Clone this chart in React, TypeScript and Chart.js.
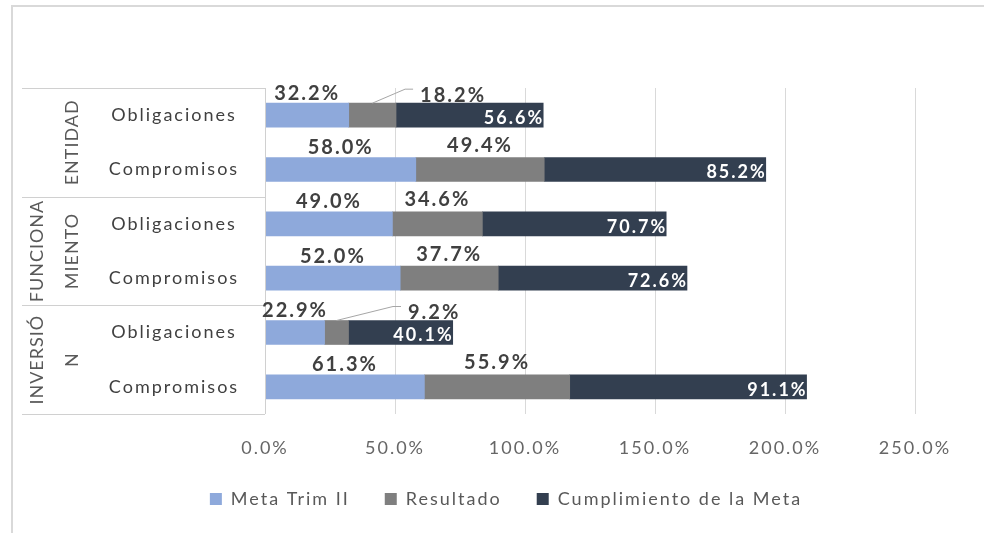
import React, { useEffect, useRef } from 'react';
import { Chart, registerables } from 'chart.js';

Chart.register(...registerables);

// ---- data ----
const groupLabelLines: string[][] = [['ENTIDAD'], ['FUNCIONA', 'MIENTO'], ['INVERSIÓ', 'N']];
const groupSizes = [2, 2, 2];
const subCategories = ['Obligaciones', 'Compromisos', 'Obligaciones', 'Compromisos', 'Obligaciones', 'Compromisos'];
const metaTrim = [32.2, 58.0, 49.0, 52.0, 22.9, 61.3];
const resultado = [18.2, 49.4, 34.6, 37.7, 9.2, 55.9];
const cumplimiento = [56.6, 85.2, 70.7, 72.6, 40.1, 91.1];
const xTickMax = 250;
const xTickStep = 50;
const seriesNames = ['Meta Trim II', 'Resultado', 'Cumplimiento de la Meta'];
const seriesColors = ['#8EA9DB', '#7F7F7F', '#333F50'];

const FONT = 'Lato';
const fmt = (v: number) => v.toFixed(1) + '%';

const decorPlugin = {
  id: 'decor',
  beforeUpdate(chart: any) {
    chart.ctx.letterSpacing = '2px';
  },
  beforeDraw(chart: any) {
    const ctx = chart.ctx;
    ctx.save();
    ctx.fillStyle = '#ffffff';
    ctx.fillRect(0, 0, chart.width, chart.height);
    ctx.strokeStyle = '#D9D9D9';
    ctx.lineWidth = 2;
    ctx.beginPath();
    ctx.moveTo(12, chart.height);
    ctx.lineTo(12, 6);
    ctx.lineTo(chart.width, 6);
    ctx.stroke();
    ctx.restore();
    ctx.letterSpacing = '2px';
  },
  afterDraw(chart: any) {
    const ctx = chart.ctx;
    const area = chart.chartArea;
    const yScale = chart.scales.y;
    ctx.save();

    // ---- hierarchical category axis ----
    const tableLeft = 22;
    ctx.strokeStyle = '#D0D0D0';
    ctx.lineWidth = 1;
    const boundaries: number[] = [area.top];
    let idx = 0;
    groupSizes.forEach((n, g) => {
      idx += n;
      if (g < groupSizes.length - 1) {
        boundaries.push((yScale.getPixelForValue(idx - 1) + yScale.getPixelForValue(idx)) / 2);
      }
    });
    boundaries.push(area.bottom);
    ctx.beginPath();
    boundaries.forEach((b) => {
      ctx.moveTo(tableLeft, Math.round(b) + 0.5);
      ctx.lineTo(area.left, Math.round(b) + 0.5);
    });
    ctx.moveTo(Math.round(area.left) + 0.5, area.top);
    ctx.lineTo(Math.round(area.left) + 0.5, area.bottom);
    ctx.stroke();

    // sub category labels
    ctx.letterSpacing = '2px';
    ctx.font = `18px ${FONT}`;
    ctx.fillStyle = '#404040';
    ctx.textAlign = 'center';
    ctx.textBaseline = 'middle';
    subCategories.forEach((s, i) => {
      ctx.fillText(s, 174, yScale.getPixelForValue(i));
    });

    // group labels (rotated)
    ctx.letterSpacing = '1px';
    ctx.font = `18px ${FONT}`;
    ctx.fillStyle = '#595959';
    groupLabelLines.forEach((lines, g) => {
      const cy = (boundaries[g] + boundaries[g + 1]) / 2;
      lines.forEach((line, k) => {
        const cx = 72 - (lines.length - 1 - k) * 35;
        ctx.save();
        ctx.translate(cx, cy);
        ctx.rotate(-Math.PI / 2);
        ctx.fillText(line, 0, 0);
        ctx.restore();
      });
    });

    // ---- data labels ----
    const m0 = chart.getDatasetMeta(0).data;
    const m1 = chart.getDatasetMeta(1).data;
    const m2 = chart.getDatasetMeta(2).data;
    ctx.textBaseline = 'middle';
    for (let i = 0; i < metaTrim.length; i++) {
      const b0 = m0[i], b1 = m1[i], b2 = m2[i];
      ctx.letterSpacing = '2px';
      ctx.font = `bold 20px ${FONT}`;
      ctx.fillStyle = '#404040';
      const labelY = b0.y - 22;
      const t0 = fmt(metaTrim[i]);
      const c0 = (b0.base + b0.x) / 2;
      const w0 = ctx.measureText(t0).width;
      ctx.textAlign = 'center';
      ctx.fillText(t0, c0, labelY);

      const t1 = fmt(resultado[i]);
      const w1 = ctx.measureText(t1).width;
      const c1 = (b1.base + b1.x) / 2;
      const seg1 = Math.abs(b1.x - b1.base);
      if (w1 > seg1) {
        const left = c0 + w0 / 2 + 80;
        ctx.textAlign = 'left';
        ctx.fillText(t1, left, labelY + 2);
        ctx.strokeStyle = '#A6A6A6';
        ctx.lineWidth = 1;
        ctx.beginPath();
        ctx.moveTo(c1, b1.y - 12);
        ctx.lineTo(left - 15, labelY - 4);
        ctx.lineTo(left - 7, labelY - 4);
        ctx.stroke();
      } else {
        ctx.textAlign = 'center';
        ctx.fillText(t1, c1, labelY - 2);
      }

      ctx.letterSpacing = '2px';
      ctx.font = `bold 18px ${FONT}`;
      ctx.fillStyle = '#ffffff';
      ctx.textAlign = 'right';
      ctx.fillText(fmt(cumplimiento[i]), b2.x + 1, b2.y + 3);
    }
    ctx.restore();
    ctx.letterSpacing = '2px';
  },
};

export default function App() {
  const ref = useRef<HTMLCanvasElement>(null);
  useEffect(() => {
    Chart.defaults.font.family = FONT;
    const datasets = [metaTrim, resultado, cumplimiento].map((d, k) => ({
      label: seriesNames[k],
      data: d,
      backgroundColor: seriesColors[k],
      borderWidth: 0,
      barThickness: 24,
    }));
    const chart = new Chart(ref.current as HTMLCanvasElement, {
      type: 'bar',
      data: { labels: subCategories, datasets },
      options: {
        indexAxis: 'y',
        responsive: false,
        animation: false,
        layout: { padding: { top: 88, left: 97, right: 69, bottom: 15 } },
        scales: {
          x: {
            stacked: true,
            min: 0,
            max: xTickMax,
            ticks: {
              stepSize: xTickStep,
              callback: (v: any) => fmt(Number(v)),
              color: '#666666',
              font: { family: FONT, size: 18 },
              padding: 23,
              maxRotation: 0,
            },
            grid: { color: '#D9D9D9', drawTicks: false },
            border: { display: false },
            afterFit: (s: any) => {
              s.height = 41;
            },
          },
          y: {
            stacked: true,
            ticks: { display: false },
            grid: { display: false },
            border: { display: false },
            afterFit: (s: any) => {
              s.width = 168;
            },
          },
        },
        plugins: {
          legend: {
            position: 'bottom',
            labels: {
              boxWidth: 12,
              boxHeight: 12,
              padding: 35,
              color: '#595959',
              font: { family: FONT, size: 18 },
            },
          },
          tooltip: { enabled: false },
        },
      } as any,
      plugins: [decorPlugin],
    });
    return () => chart.destroy();
  }, []);
  return (
    <div style={{ position: 'absolute', left: 0, top: 0, width: 984, height: 533, background: '#fff' }}>
      <canvas ref={ref} width={984} height={533} style={{ display: 'block' }} />
    </div>
  );
}
